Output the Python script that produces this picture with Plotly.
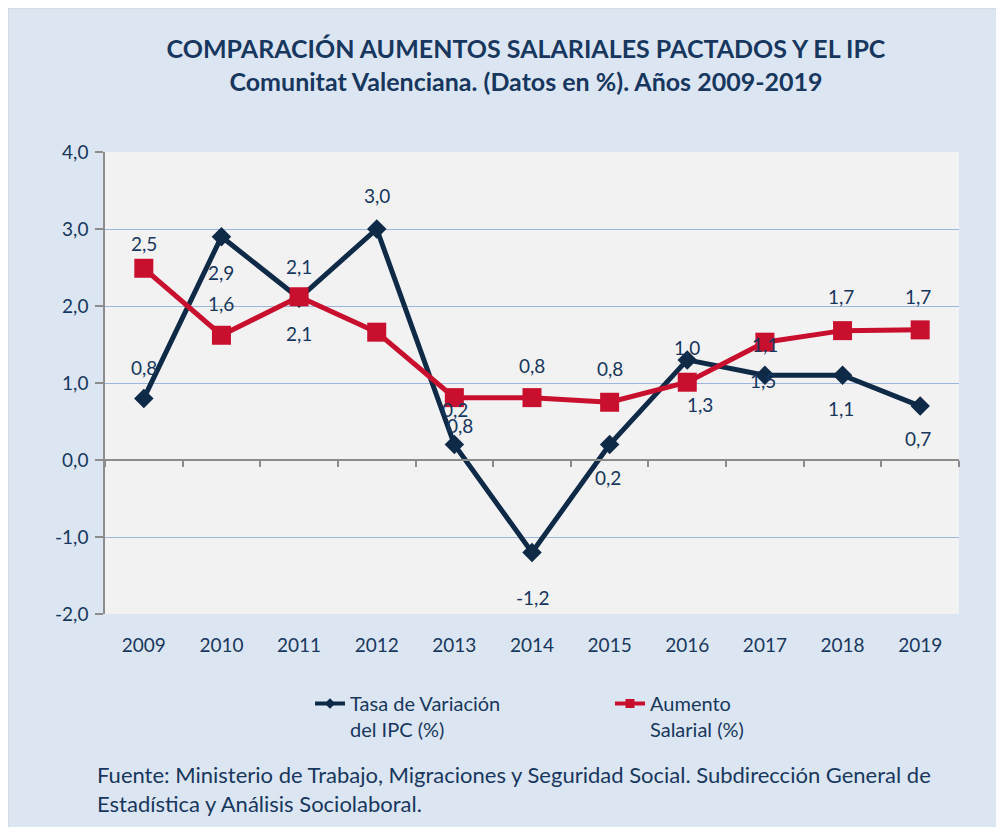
import plotly.graph_objects as go

# ---- data ----
years = ["2009", "2010", "2011", "2012", "2013", "2014", "2015", "2016", "2017", "2018", "2019"]
ipc = [0.8, 2.9, 2.1, 3.0, 0.2, -1.2, 0.2, 1.3, 1.1, 1.1, 0.7]
salario = [2.49, 1.62, 2.12, 1.66, 0.81, 0.81, 0.75, 1.01, 1.53, 1.68, 1.69]
ipc_labels = ["0,8", "2,9", "2,1", "3,0", "0,2", "-1,2", "0,2", "1,0", "1,5", "1,1", "0,7"]
sal_labels = ["2,5", "1,6", "2,1", "", "0,8", "0,8", "0,8", "1,3", "1,1", "1,7", "1,7"]
y_ticks = [-2, -1, 0, 1, 2, 3, 4]

# label placement (pixel offsets from the point)
ipc_dy = [31, -36, -35, 34, 35, -45, -33, 12, -5, -33, -32]
ipc_dx = [0, 0, 0, 0, 1, 0, -2, 0, -2, -2, -2]
sal_dy = [25, 32, 30, 0, -28, 32, 34, -22, -2, 34, 33]
sal_dx = [0, 0, 0, 0, 6, 0, 0, 13, 0, -2, -2]

NAVY = "#0E2A47"
RED = "#C8102E"
TXT = "#17375E"
BLUE_BG = "#DCE6F2"
FONT = "Lato, 'Open Sans', sans-serif"

OFF = 8  # page body margin
W, H = 996, 819
L, T = 97, 144
pw, ph = 854, 462
R, B = W - L - pw, H - T - ph


def px_x(p_ref):
    return (p_ref - OFF - L) / pw


def px_y(p_ref):
    return (T + ph - (p_ref - OFF)) / ph


def fmt(v):
    return ("%.1f" % v).replace(".", ",")


fig = go.Figure()
fig.add_trace(go.Scatter(
    x=years, y=ipc, mode="lines+markers", showlegend=False,
    line=dict(color=NAVY, width=5),
    marker=dict(symbol="diamond", size=15, color=NAVY),
))
fig.add_trace(go.Scatter(
    x=years, y=salario, mode="lines+markers", showlegend=False,
    line=dict(color=RED, width=5),
    marker=dict(symbol="square", size=19, color=RED),
))
# legend entries (smaller symbols, like the reference legend)
fig.add_trace(go.Scatter(
    x=[None], y=[None], mode="lines+markers",
    name="Tasa de Variación<br>del IPC (%)",
    line=dict(color=NAVY, width=4),
    marker=dict(symbol="diamond", size=8, color=NAVY),
))
fig.add_trace(go.Scatter(
    x=[None], y=[None], mode="lines+markers",
    name="Aumento<br>Salarial (%)",
    line=dict(color=RED, width=4),
    marker=dict(symbol="square", size=9, color=RED),
))

annotations = []
for i, (v, t, dy, dx) in enumerate(zip(ipc, ipc_labels, ipc_dy, ipc_dx)):
    if t:
        annotations.append(dict(x=i, y=v, xref="x", yref="y", text=t, showarrow=False,
                                yshift=dy, xshift=dx,
                                font=dict(size=19, color=TXT, family=FONT)))
for i, (v, t, dy, dx) in enumerate(zip(salario, sal_labels, sal_dy, sal_dx)):
    if t:
        annotations.append(dict(x=i, y=v, xref="x", yref="y", text=t, showarrow=False,
                                yshift=dy, xshift=dx,
                                font=dict(size=19, color=TXT, family=FONT)))

annotations.append(dict(
    xref="paper", yref="paper", x=px_x(95), y=px_y(789), xanchor="left", yanchor="middle",
    align="left", showarrow=False,
    text="Fuente: Ministerio de Trabajo, Migraciones y Seguridad Social. Subdirección General de<br>Estadística y Análisis Sociolaboral.",
    font=dict(size=22, color=TXT, family=FONT),
))

shapes = [
    dict(type="rect", xref="paper", yref="paper", x0=px_x(8), x1=px_x(1000), y0=px_y(829), y1=px_y(8),
         fillcolor=BLUE_BG, line=dict(color="#D0D0D0", width=1), layer="below"),
    dict(type="rect", xref="paper", yref="paper", x0=0, x1=1, y0=0, y1=1,
         fillcolor="#F2F2F2", line=dict(width=0), layer="below"),
]

fig.update_layout(
    width=W, height=H,
    margin=dict(l=L, r=R, t=T, b=B, autoexpand=False),
    paper_bgcolor="white",
    plot_bgcolor="#F2F2F2",
    separators=",.",
    font=dict(family=FONT, color=TXT, size=19),
    title=dict(
        text="<b>COMPARACIÓN AUMENTOS SALARIALES PACTADOS Y EL IPC<br>Comunitat Valenciana. (Datos en %). Años 2009-2019</b>",
        x=(526 - OFF) / W, xref="container", xanchor="center",
        y=1 - 50 / H, yref="container", yanchor="top",
        font=dict(size=25, color=TXT, family=FONT),
    ),
    xaxis=dict(
        type="category", categoryorder="array", categoryarray=years,
        range=[-0.5, 10.5],
        anchor="free", position=2 / 6,
        showticklabels=False, showgrid=False,
        showline=True, linecolor="#8C8C8C", linewidth=1.5,
        ticks="outside", tickson="boundaries", ticklen=6, tickcolor="#8C8C8C", tickwidth=1.5,
        zeroline=False,
    ),
    xaxis2=dict(
        overlaying="x", anchor="y", side="bottom",
        range=[-0.5, 10.5], tickmode="array", tickvals=list(range(len(years))), ticktext=years,
        showgrid=False, showline=False, ticks="", zeroline=False,
        tickfont=dict(size=19, color=TXT, family=FONT),
        ticklabelstandoff=18,
    ),
    yaxis=dict(
        range=[-2, 4], tickmode="array", tickvals=y_ticks, ticktext=[fmt(v) for v in y_ticks],
        showgrid=True, gridcolor="#9BB7DC", gridwidth=1,
        showline=True, linecolor="#8C8C8C", linewidth=1.5,
        ticks="outside", ticklen=8, tickcolor="#8C8C8C", tickwidth=1.5,
        zeroline=False,
        tickfont=dict(size=19, color=TXT, family=FONT),
        ticklabelstandoff=3,
    ),
    showlegend=True,
    legend=dict(
        orientation="h", x=px_x(310), y=px_y(684), xanchor="left", yanchor="top",
        bgcolor="rgba(0,0,0,0)", entrywidth=255, entrywidthmode="pixels",
        font=dict(size=20, color=TXT, family=FONT), valign="top",
        tracegroupgap=0,
    ),
    annotations=annotations,
    shapes=shapes,
)

# dummy trace to activate xaxis2 tick labels
fig.add_trace(go.Scatter(x=[0], y=[None], xaxis="x2", yaxis="y", showlegend=False,
                         hoverinfo="skip", mode="markers"))

fig.write_html("out.html")
